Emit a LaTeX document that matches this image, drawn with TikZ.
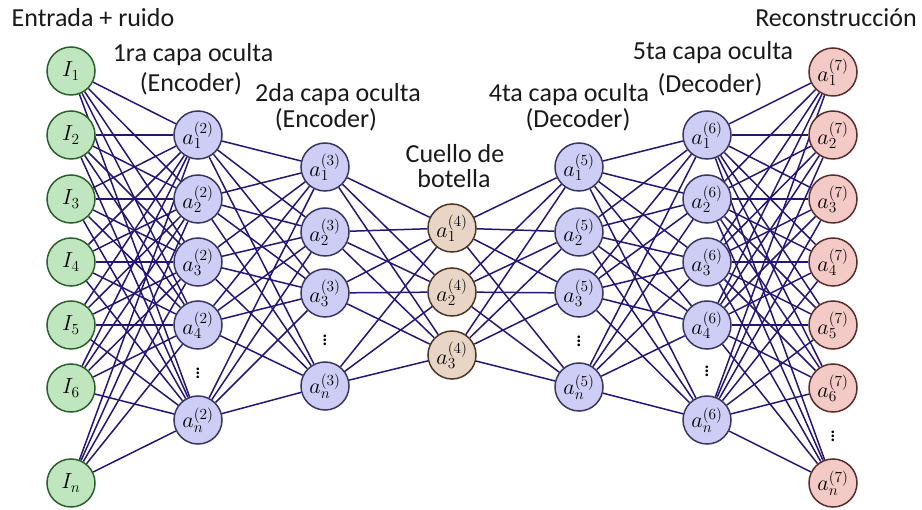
\RequirePackage{fix-cm}
\documentclass[tikz,border=0pt]{standalone}
\usepackage[no-math]{fontspec}
\setmainfont{Carlito}
\usetikzlibrary{backgrounds}
\definecolor{inFill}{RGB}{192,230,192}
\definecolor{inDraw}{RGB}{45,95,45}
\definecolor{hidFill}{RGB}{205,205,246}
\definecolor{hidDraw}{RGB}{55,55,100}
\definecolor{botFill}{RGB}{233,213,197}
\definecolor{botDraw}{RGB}{75,55,40}
\definecolor{outFill}{RGB}{244,202,198}
\definecolor{outDraw}{RGB}{90,45,45}
\definecolor{edgeCol}{RGB}{38,22,115}
\definecolor{txtCol}{RGB}{25,25,25}
\begin{document}
\begin{tikzpicture}[x=1pt,y=-1pt,
  neuron/.style={circle,draw,line width=1.5pt,minimum size=48pt,inner sep=0pt,font=\fontsize{22}{26}\selectfont},
  inp/.style={neuron,fill=inFill,draw=inDraw},
  hid/.style={neuron,fill=hidFill,draw=hidDraw},
  bot/.style={neuron,fill=botFill,draw=botDraw},
  outn/.style={neuron,fill=outFill,draw=outDraw},
  lbl/.style={font=\fontsize{26}{30}\selectfont,anchor=base,inner sep=0pt,text=txtCol},
  edge/.style={draw=edgeCol,line width=1.5pt},
  vdotsnode/.style={font=\fontsize{22}{26}\selectfont,inner sep=0pt}
]
\useasboundingbox (0,0) rectangle (922,510);

% layer 1 (input)
\foreach \y/\t [count=\i] in {71/1,135/2,199/3,262/4,325/5,388/6,483/n}
  \node[inp] (L1-\i) at (71,\y) {$I_{\t}$};
% layer 2
\foreach \y/\t [count=\i] in {135/1,199/2,262/3,325/4,420/n}
  \node[hid] (L2-\i) at (198,\y) {$a^{(2)}_{\t}$};
% layer 3
\foreach \y/\t [count=\i] in {167/1,232/2,293/3,386/n}
  \node[hid] (L3-\i) at (325,\y) {$a^{(3)}_{\t}$};
% layer 4 (bottleneck)
\foreach \y/\t [count=\i] in {228/1,292/2,355/3}
  \node[bot] (L4-\i) at (452,\y) {$a^{(4)}_{\t}$};
% layer 5
\foreach \y/\t [count=\i] in {167/1,232/2,293/3,387/n}
  \node[hid] (L5-\i) at (579,\y) {$a^{(5)}_{\t}$};
% layer 6
\foreach \y/\t [count=\i] in {135/1,199/2,262/3,325/4,420/n}
  \node[hid] (L6-\i) at (707,\y) {$a^{(6)}_{\t}$};
% layer 7 (output)
\foreach \y/\t [count=\i] in {72/1,135/2,199/3,262/4,325/5,388/6,483/n}
  \node[outn] (L7-\i) at (833,\y) {$a^{(7)}_{\t}$};

% vertical dots
\node[vdotsnode] (d2) at (198,370) {$\vdots$};
\node[vdotsnode] (d3) at (325,337) {$\vdots$};
\node[vdotsnode] (d5) at (579,338) {$\vdots$};
\node[vdotsnode] (d6) at (707,368) {$\vdots$};
\node[vdotsnode] (d7) at (833,433) {$\vdots$};

% connections
\begin{scope}[on background layer]
\foreach \a/\na/\b/\nb in {1/7/2/5, 2/5/3/4, 3/4/4/3, 4/3/5/4, 5/4/6/5, 6/5/7/7}
  \foreach \i in {1,...,\na}
    \foreach \j in {1,...,\nb}
      \draw[edge] (L\a-\i) -- (L\b-\j);
\end{scope}

% labels
\node[lbl] (t1)  at (93,27)   {Entrada + ruido};
\node[lbl] (t2a) at (193,62)  {1ra capa oculta};
\node[lbl] (t2b) at (191,92)  {(Encoder)};
\node[lbl] (t3a) at (338,102) {2da capa oculta};
\node[lbl] (t3b) at (326,128) {(Encoder)};
\node[lbl] (t4a) at (455,163) {Cuello de};
\node[lbl] (t4b) at (454,188) {botella};
\node[lbl] (t5a) at (569,102) {4ta capa oculta};
\node[lbl] (t5b) at (578,128) {(Decoder)};
\node[lbl] (t6a) at (713,60)  {5ta capa oculta};
\node[lbl] (t6b) at (710,93)  {(Decoder)};
\node[lbl] (t7)  at (836,27)  {Reconstrucción};
\end{tikzpicture}
\end{document}
